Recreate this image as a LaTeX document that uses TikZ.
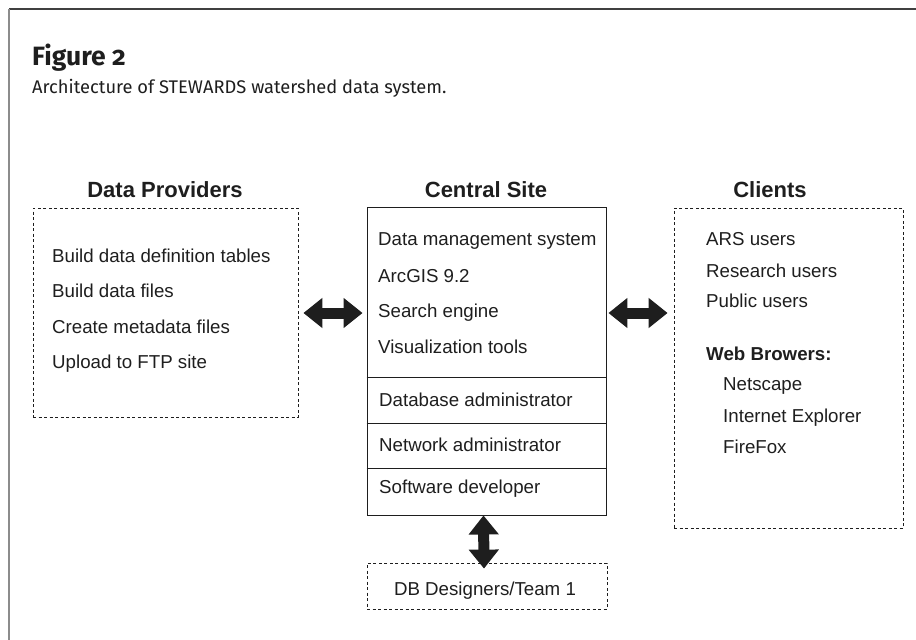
\documentclass[tikz,border=0pt]{standalone}
\usepackage{fontspec}
\setmainfont{Liberation Sans}
\newfontfamily\capfont{Fira Sans}
\usetikzlibrary{arrows.meta,calc}
\definecolor{ink}{HTML}{1E1E1E}
\tikzset{
  txt/.style={anchor=base west,inner sep=0pt,text=ink,font=\fontsize{18.7}{20}\selectfont},
  head/.style={anchor=base,inner sep=0pt,text=ink,font=\fontsize{22}{24}\selectfont\bfseries},
  dashbox/.style={draw=ink,dashed,dash pattern=on 3pt off 2.5pt,line width=0.8pt,inner sep=0pt},
  solidbox/.style={draw=ink,line width=0.9pt,inner sep=0pt},
  bigarrow/.style={line width=11pt,ink,{Triangle[length=19pt,width=29pt]}-{Triangle[length=19pt,width=29pt]}},
}
\begin{document}
\begin{tikzpicture}[x=1pt,y=-1pt]
\useasboundingbox (0,0) rectangle (916,640);
% frame
\draw[line width=2pt,color=black!75] (9,9) -- (916,9);
\draw[line width=2.5pt,color=black!45] (9,9) -- (9,640);
% title
\node[anchor=base west,inner sep=0pt,text=ink,font=\capfont\fontsize{26.5}{28}\selectfont\bfseries\addfontfeatures{Numbers=OldStyle}] (fig) at (32,65) {Figure 2};
\node[anchor=base west,inner sep=0pt,text=ink,font=\capfont\fontsize{18.3}{20}\selectfont] (sub) at (32,93) {Architecture of STEWARDS watershed data system.};
% headings
\node[head] (hdp) at (165,197) {Data Providers};
\node[head] (hcs) at (486,197) {Central Site};
\node[head] (hcl) at (770,197) {Clients};
% boxes
\node[dashbox,minimum width=265pt,minimum height=209pt] (dp) at (165.5,312.5) {};
\node[solidbox,minimum width=239pt,minimum height=308pt] (cs) at (486.5,361) {};
\node[dashbox,minimum width=229pt,minimum height=320pt] (cl) at (788.5,368) {};
\node[dashbox,minimum width=240pt,minimum height=46pt] (db) at (487,586) {};
% dividers
\draw[line width=0.9pt,ink] (cs.west |- 0,377) -- (cs.east |- 0,377);
\draw[line width=0.9pt,ink] (cs.west |- 0,423) -- (cs.east |- 0,423);
\draw[line width=0.9pt,ink] (cs.west |- 0,468) -- (cs.east |- 0,468);
% data providers text
\node[txt] (p1) at (52,262) {Build data definition tables};
\node[txt] (p2) at (52,297) {Build data files};
\node[txt] (p3) at (52,333) {Create metadata files};
\node[txt] (p4) at (52,368) {Upload to FTP site};
% central text
\node[txt] (c1) at (378,245) {Data management system};
\node[txt] (c2) at (378,282) {ArcGIS 9.2};
\node[txt] (c3) at (378,317) {Search engine};
\node[txt] (c4) at (378,353) {Visualization tools};
\node[txt] (c5) at (379,406) {Database administrator};
\node[txt] (c6) at (379,451) {Network administrator};
\node[txt] (c7) at (379,493) {Software developer};
% clients text
\node[txt] (k1) at (706,245) {ARS users};
\node[txt] (k2) at (706,277) {Research users};
\node[txt] (k3) at (706,307) {Public users};
\node[txt,font=\fontsize{18.7}{20}\selectfont\bfseries] (k4) at (706,360) {Web Browers:};
\node[txt] (k5) at (723,390) {Netscape};
\node[txt] (k6) at (723,422) {Internet Explorer};
\node[txt] (k7) at (723,453) {FireFox};
% db text
\node[anchor=base,inner sep=0pt,text=ink,font=\fontsize{18.7}{20}\selectfont] (dbt) at (485,595) {DB Designers/Team 1};
% arrows
\coordinate (ay) at (0,313);
\draw[bigarrow] ([xshift=5pt]dp.east |- ay) -- ([xshift=-4pt]cs.west |- ay);
\draw[bigarrow] ([xshift=2pt]cs.east |- ay) -- ([xshift=-6pt]cl.west |- ay);
\draw[bigarrow] ([xshift=-3pt]cs.south) -- ([xshift=-3pt,yshift=-6pt]db.north);
\end{tikzpicture}
\end{document}
